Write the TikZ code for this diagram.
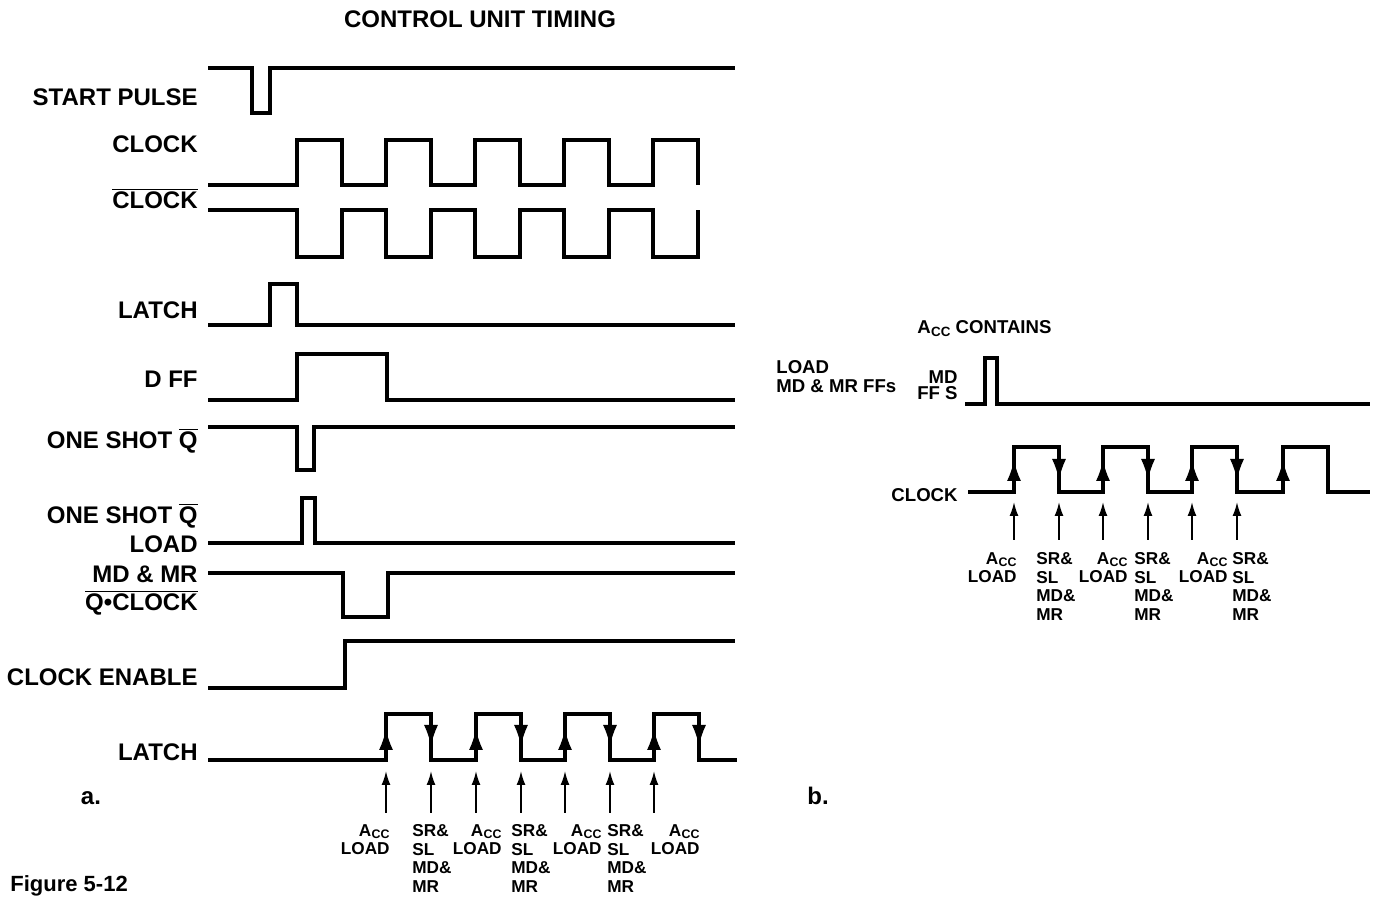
\documentclass[tikz,border=0pt]{standalone}
\usepackage{fontspec}
\usepackage{graphicx}
\setmainfont{Liberation Sans}
\usetikzlibrary{arrows.meta}
\newcommand{\Acc}{A\kern0.2pt\raisebox{-0.25ex}{\scalebox{0.72}{CC}}}
\newcommand{\ovl}[1]{$\overline{\mbox{#1}}$}
\begin{document}
\begin{tikzpicture}[x=0.5pt,y=-0.5pt,
  wave/.style={line width=2.1pt, line join=miter},
  lab/.style={font=\bfseries\fontsize{12}{13}\selectfont, inner sep=0pt, anchor=base east},
  tinylab/.style={font=\bfseries\fontsize{8.6}{9.3}\selectfont, inner sep=0pt},
  midlab/.style={font=\bfseries\fontsize{9.3}{9.5}\selectfont, inner sep=0pt},
  edgearr/.style={line width=0.6pt, -{Latex[length=10pt,width=7pt]}},
  markarr/.style={line width=0.9pt, -{Latex[length=7pt,width=4.5pt]}}]
\useasboundingbox (0,0) rectangle (1373,897);

% ---------------- title and labels (a)
\node[font=\bfseries\fontsize{12}{14}\selectfont, inner sep=0pt, anchor=base] (title) at (480,28) {CONTROL UNIT TIMING};
\node[lab] (lstart) at (198,106) {START PULSE};
\node[lab] (lclk) at (198,153) {CLOCK};
\node[lab] (lclkb) at (198,209) {\ovl{CLOCK}};
\node[lab] (llatch) at (198,319) {LATCH};
\node[lab] (ldff) at (198,388) {D FF};
\node[lab] (los1) at (198,449) {ONE SHOT \ovl{Q}};
\node[lab] (los2) at (198,524) {ONE SHOT \ovl{Q}};
\node[lab] (lload) at (198,553) {LOAD};
\node[lab] (lmdmr) at (198,583) {MD \& MR};
\node[lab] (lqclk) at (198,611) {\ovl{Q•CLOCK}};
\node[lab] (lce) at (198,686) {CLOCK ENABLE};
\node[lab] (llatch2) at (198,761) {LATCH};
\node[lab, anchor=base] (la) at (91,805) {a.};
\node[font=\bfseries\fontsize{11}{13}\selectfont, inner sep=0pt, anchor=base west] (fig) at (10,892) {Figure 5-12};

% ---------------- waveforms (a)
\draw[wave] (208,68) -- (252,68) -- (252,113) -- (270,113) -- (270,68) -- (735,68);
\draw[wave] (208,185) -- (297,185) -- (297,140) -- (342,140) -- (342,185) -- (386,185) -- (386,140) -- (431,140) -- (431,185) -- (475,185) -- (475,140) -- (520,140) -- (520,185) -- (564,185) -- (564,140) -- (609,140) -- (609,185) -- (653,185) -- (653,140) -- (698,140) -- (698,185);
\draw[wave] (208,210) -- (297,210) -- (297,257) -- (342,257) -- (342,210) -- (386,210) -- (386,257) -- (431,257) -- (431,210) -- (475,210) -- (475,257) -- (520,257) -- (520,210) -- (564,210) -- (564,257) -- (609,257) -- (609,210) -- (653,210) -- (653,257) -- (698,257) -- (698,210);
\draw[wave] (208,325) -- (270,325) -- (270,284) -- (297,284) -- (297,325) -- (735,325);
\draw[wave] (208,400) -- (297,400) -- (297,354) -- (387,354) -- (387,400) -- (735,400);
\draw[wave] (208,427) -- (297,427) -- (297,470) -- (314,470) -- (314,427) -- (735,427);
\draw[wave] (208,543) -- (302,543) -- (302,498) -- (315,498) -- (315,543) -- (735,543);
\draw[wave] (208,573) -- (343,573) -- (343,617) -- (388,617) -- (388,573) -- (735,573);
\draw[wave] (208,688) -- (345,688) -- (345,641) -- (735,641);
\draw[wave] (208,760) -- (386,760) -- (386,714) -- (431,714) -- (431,760) -- (476,760) -- (476,714) -- (521,714) -- (521,760) -- (565,760) -- (565,714) -- (610,714) -- (610,760) -- (654,760) -- (654,714) -- (699,714) -- (699,760) -- (737,760);
% edge arrows
\foreach \x in {386,476,565,654} \draw[edgearr] (\x,756) -- (\x,730);
\foreach \x in {431,521,610,699} \draw[edgearr] (\x,718) -- (\x,745);
% marker arrows
\foreach \x in {386,431,476,521,565,610,654} \draw[markarr] (\x,813) -- (\x,771);
% marker labels
\node[tinylab, anchor=north east, align=right] (acc1) at (390,824) {\Acc\\LOAD};
\node[tinylab, anchor=north west, align=left] (sr1) at (412,824) {SR\&\\SL\\MD\&\\MR};
\node[tinylab, anchor=north east, align=right] (acc2) at (502,824) {\Acc\\LOAD};
\node[tinylab, anchor=north west, align=left] (sr2) at (511,824) {SR\&\\SL\\MD\&\\MR};
\node[tinylab, anchor=north east, align=right] (acc3) at (602,824) {\Acc\\LOAD};
\node[tinylab, anchor=north west, align=left] (sr3) at (607,824) {SR\&\\SL\\MD\&\\MR};
\node[tinylab, anchor=north east, align=right] (acc4) at (700,824) {\Acc\\LOAD};

% ---------------- panel (b)
\node[midlab, anchor=base west] (contains) at (917,334) {\Acc{} CONTAINS};
\node[midlab, anchor=north west, align=left] (loadmd) at (776,360) {LOAD\\MD \& MR FFs};
\node[midlab, anchor=north east, align=right, font=\bfseries\fontsize{9.3}{8.2}\selectfont] (mdffs) at (958,370) {MD\\FF S};
\node[midlab, anchor=base east] (clkb) at (958,502) {CLOCK};
\node[lab, anchor=base] (lb) at (818,805) {b.};

\draw[wave] (965,404) -- (985,404) -- (985,358) -- (997,358) -- (997,404) -- (1370,404);
\draw[wave] (968,492) -- (1014,492) -- (1014,447) -- (1059,447) -- (1059,492) -- (1103,492) -- (1103,447) -- (1148,447) -- (1148,492) -- (1192,492) -- (1192,447) -- (1237,447) -- (1237,492) -- (1283,492) -- (1283,447) -- (1328,447) -- (1328,492) -- (1370,492);
\foreach \x in {1014,1103,1192,1283} \draw[edgearr] (\x,488) -- (\x,461);
\foreach \x in {1059,1148,1237} \draw[edgearr] (\x,452) -- (\x,479);
\foreach \x in {1014,1059,1103,1148,1192,1237} \draw[markarr] (\x,540) -- (\x,502);

\node[tinylab, anchor=north east, align=right] (bacc1) at (1017,552) {\Acc\\LOAD};
\node[tinylab, anchor=north west, align=left] (bsr1) at (1036,552) {SR\&\\SL\\MD\&\\MR};
\node[tinylab, anchor=north east, align=right] (bacc2) at (1128,552) {\Acc\\LOAD};
\node[tinylab, anchor=north west, align=left] (bsr2) at (1134,552) {SR\&\\SL\\MD\&\\MR};
\node[tinylab, anchor=north east, align=right] (bacc3) at (1228,552) {\Acc\\LOAD};
\node[tinylab, anchor=north west, align=left] (bsr3) at (1232,552) {SR\&\\SL\\MD\&\\MR};
\end{tikzpicture}
\end{document}
